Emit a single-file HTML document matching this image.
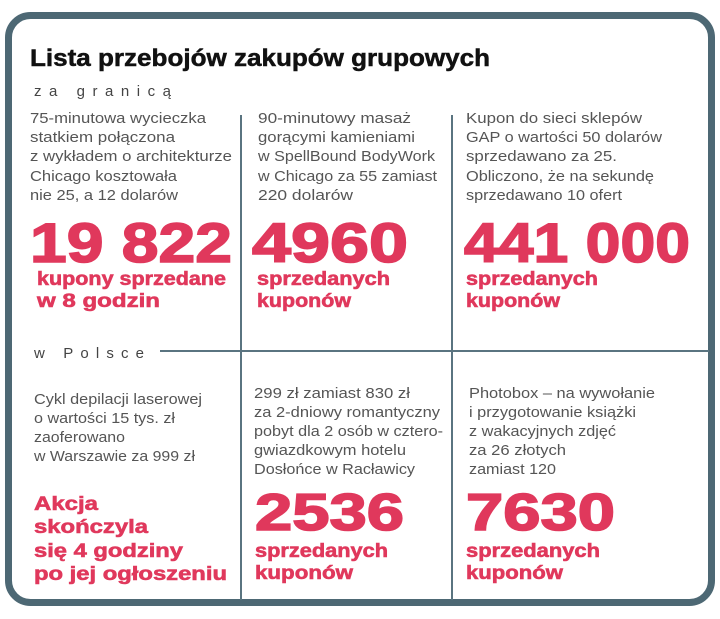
<!DOCTYPE html>
<html><head><meta charset="utf-8"><style>
html,body{margin:0;padding:0;background:#fff;width:720px;height:619px;overflow:hidden}
svg{display:block}
.d{font-family:"Liberation Sans Narrow","Liberation Sans",sans-serif;font-size:15px;fill:#555}
.n{font-family:"Liberation Sans",sans-serif;font-weight:bold;font-size:56px;fill:#e0385c;stroke:#e0385c;stroke-width:1.6}
.r{font-family:"Liberation Sans",sans-serif;font-weight:bold;font-size:19px;fill:#e0385c;stroke:#e0385c;stroke-width:0.6}
.s{font-family:"Liberation Sans",sans-serif;font-size:15px;fill:#444}
</style></head><body>
<svg width="720" height="619" viewBox="0 0 720 619" xmlns="http://www.w3.org/2000/svg">
<rect x="8.5" y="15.5" width="703" height="587" rx="22" fill="none" stroke="#4d6874" stroke-width="7"/>
<text x="30" y="66" font-family="Liberation Sans,sans-serif" font-weight="bold" font-size="24" fill="#111" stroke="#111" stroke-width="0.5" textLength="460" lengthAdjust="spacingAndGlyphs">Lista przebojów zakupów grupowych</text>
<text class="s" x="34" y="96" textLength="141" lengthAdjust="spacing" letter-spacing="4">za granicą</text>
<text class="s" x="34" y="358" textLength="114" lengthAdjust="spacing" letter-spacing="4">w Polsce</text>
<line x1="160" y1="351" x2="709" y2="351" stroke="#5a7480" stroke-width="2"/>
<line x1="241" y1="115" x2="241" y2="600" stroke="#5a7480" stroke-width="2"/>
<line x1="452" y1="115" x2="452" y2="600" stroke="#5a7480" stroke-width="2"/>
<g class="d">
<text x="30" y="123" textLength="176" lengthAdjust="spacingAndGlyphs">75-minutowa wycieczka</text>
<text x="30" y="142" textLength="145" lengthAdjust="spacingAndGlyphs">statkiem połączona</text>
<text x="30" y="161" textLength="202" lengthAdjust="spacingAndGlyphs">z wykładem o architekturze</text>
<text x="30" y="181" textLength="147" lengthAdjust="spacingAndGlyphs">Chicago kosztowała</text>
<text x="30" y="200" textLength="148" lengthAdjust="spacingAndGlyphs">nie 25, a 12 dolarów</text>
<text x="258" y="123" textLength="153" lengthAdjust="spacingAndGlyphs">90-minutowy masaż</text>
<text x="258" y="142" textLength="157" lengthAdjust="spacingAndGlyphs">gorącymi kamieniami</text>
<text x="258" y="161" textLength="177" lengthAdjust="spacingAndGlyphs">w SpellBound BodyWork</text>
<text x="258" y="181" textLength="179" lengthAdjust="spacingAndGlyphs">w Chicago za 55 zamiast</text>
<text x="258" y="200" textLength="95" lengthAdjust="spacingAndGlyphs">220 dolarów</text>
<text x="466" y="123" textLength="176" lengthAdjust="spacingAndGlyphs">Kupon do sieci sklepów</text>
<text x="466" y="142" textLength="196" lengthAdjust="spacingAndGlyphs">GAP o wartości 50 dolarów</text>
<text x="466" y="161" textLength="151" lengthAdjust="spacingAndGlyphs">sprzedawano za 25.</text>
<text x="466" y="181" textLength="188" lengthAdjust="spacingAndGlyphs">Obliczono, że na sekundę</text>
<text x="466" y="200" textLength="156" lengthAdjust="spacingAndGlyphs">sprzedawano 10 ofert</text>
<text x="34" y="404" textLength="168" lengthAdjust="spacingAndGlyphs">Cykl depilacji laserowej</text>
<text x="34" y="423" textLength="141" lengthAdjust="spacingAndGlyphs">o wartości 15 tys. zł</text>
<text x="34" y="442" textLength="91" lengthAdjust="spacingAndGlyphs">zaoferowano</text>
<text x="34" y="461" textLength="161" lengthAdjust="spacingAndGlyphs">w Warszawie za 999 zł</text>
<text x="254" y="398" textLength="156" lengthAdjust="spacingAndGlyphs">299 zł zamiast 830 zł</text>
<text x="254" y="417" textLength="186" lengthAdjust="spacingAndGlyphs">za 2-dniowy romantyczny</text>
<text x="254" y="436" textLength="189" lengthAdjust="spacingAndGlyphs">pobyt dla 2 osób w cztero-</text>
<text x="254" y="455" textLength="152" lengthAdjust="spacingAndGlyphs">gwiazdkowym hotelu</text>
<text x="254" y="474" textLength="161" lengthAdjust="spacingAndGlyphs">Dosłońce w Racławicy</text>
<text x="469" y="398" textLength="186" lengthAdjust="spacingAndGlyphs">Photobox – na wywołanie</text>
<text x="469" y="417" textLength="167" lengthAdjust="spacingAndGlyphs">i przygotowanie książki</text>
<text x="469" y="436" textLength="147" lengthAdjust="spacingAndGlyphs">z wakacyjnych zdjęć</text>
<text x="469" y="455" textLength="97" lengthAdjust="spacingAndGlyphs">za 26 złotych</text>
<text x="469" y="474" textLength="87" lengthAdjust="spacingAndGlyphs">zamiast 120</text>
</g>
<g class="n">
<text x="30" y="262" textLength="202" lengthAdjust="spacingAndGlyphs">19 822</text>
<text x="252" y="262" textLength="156" lengthAdjust="spacingAndGlyphs">4960</text>
<text x="464" y="262" textLength="226" lengthAdjust="spacingAndGlyphs">441 000</text>
<text x="255" y="530" font-size="52" textLength="149" lengthAdjust="spacingAndGlyphs">2536</text>
<text x="466" y="530" font-size="52" textLength="149" lengthAdjust="spacingAndGlyphs">7630</text>
</g>
<g class="r">
<text x="37" y="285" textLength="189" lengthAdjust="spacingAndGlyphs">kupony sprzedane</text>
<text x="37" y="307" textLength="123" lengthAdjust="spacingAndGlyphs">w 8 godzin</text>
<text x="257" y="285" textLength="133" lengthAdjust="spacingAndGlyphs">sprzedanych</text>
<text x="257" y="307" textLength="94" lengthAdjust="spacingAndGlyphs">kuponów</text>
<text x="466" y="285" textLength="132" lengthAdjust="spacingAndGlyphs">sprzedanych</text>
<text x="466" y="307" textLength="94" lengthAdjust="spacingAndGlyphs">kuponów</text>
<text x="255" y="557" textLength="133" lengthAdjust="spacingAndGlyphs">sprzedanych</text>
<text x="255" y="579" textLength="98" lengthAdjust="spacingAndGlyphs">kuponów</text>
<text x="466" y="557" textLength="134" lengthAdjust="spacingAndGlyphs">sprzedanych</text>
<text x="466" y="579" textLength="97" lengthAdjust="spacingAndGlyphs">kuponów</text>
<text x="34" y="510" textLength="64" lengthAdjust="spacingAndGlyphs">Akcja</text>
<text x="34" y="533" textLength="114" lengthAdjust="spacingAndGlyphs">skończyla</text>
<text x="34" y="557" textLength="149" lengthAdjust="spacingAndGlyphs">się 4 godziny</text>
<text x="34" y="580" textLength="193" lengthAdjust="spacingAndGlyphs">po jej ogłoszeniu</text>
</g>
</svg>
</body></html>
